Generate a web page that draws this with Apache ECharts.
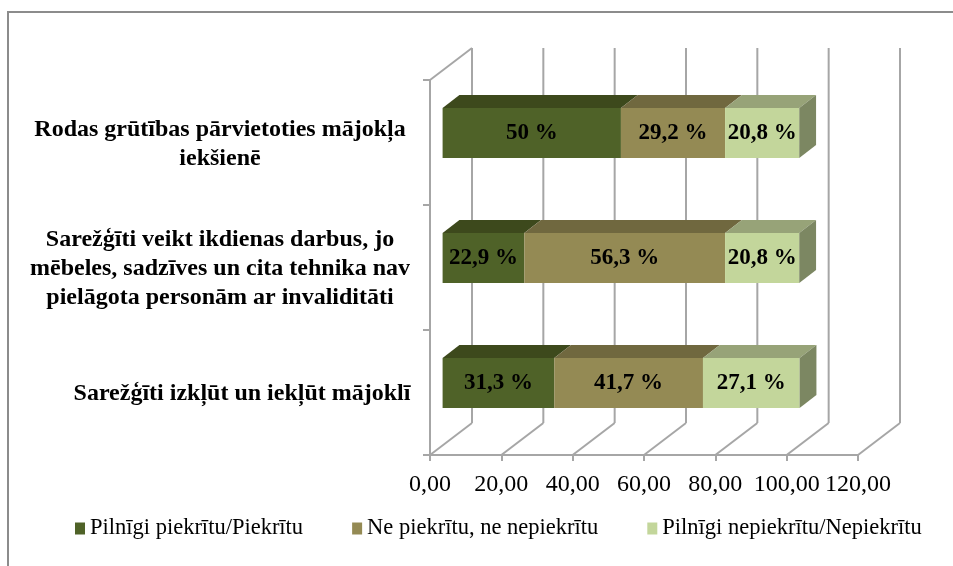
<!DOCTYPE html>
<html>
<head>
<meta charset="utf-8">
<style>
  html, body { margin: 0; padding: 0; background: #fff; }
  #main { width: 953px; height: 566px; }
</style>
<script src="https://cdn.jsdelivr.net/npm/echarts@6/dist/echarts.min.js"></script>
</head>
<body>
<div id="main"></div>
<script>
// bottom to top, as the category axis counts
const categories = [
  'Sarežģīti izkļūt un iekļūt mājoklī',
  'Sarežģīti veikt ikdienas darbus, jo\nmēbeles, sadzīves un cita tehnika nav\npielāgota personām ar invaliditāti',
  'Rodas grūtības pārvietoties mājokļa\niekšienē'
];
const agree = [31.3, 22.9, 50];
const neutral = [41.7, 56.3, 29.2];
const disagree = [27.1, 20.8, 20.8];
const xTicks = [0, 20, 40, 60, 80, 100, 120];

const names = ['Pilnīgi piekrītu/Piekrītu', 'Ne piekrītu, ne nepiekrītu', 'Pilnīgi nepiekrītu/Nepiekrītu'];
const fronts = ['#4f6228', '#948a54', '#c3d69b'];
const tops = ['#3d491c', '#70683f', '#97a378'];
const sideColor = '#7c8762';
const wallColor = '#a6a6a6';
const serif = '"Liberation Serif", "Times New Roman", serif';

// fake 3D: how far the back wall sits from the front plane
const depthX = 42;
const depthY = -32;
const barStart = 0.3;
const barDepth = 0.4;

function renderWall(params, api) {
  const cs = params.coordSys;
  const x = api.coord([api.value(0), 0])[0];
  const bottom = cs.y + cs.height;
  const line = { stroke: wallColor, lineWidth: 2 };
  const children = [
    { type: 'line', shape: { x1: x, y1: bottom, x2: x + depthX, y2: bottom + depthY }, style: line },
    { type: 'line', shape: { x1: x + depthX, y1: bottom + depthY, x2: x + depthX, y2: cs.y + depthY }, style: line }
  ];
  if (params.dataIndex === 0) {
    children.push({ type: 'line', shape: { x1: x, y1: cs.y, x2: x + depthX, y2: cs.y + depthY }, style: line });
  }
  return { type: 'group', children: children };
}

function renderSegment(s, params, api) {
  const a = api.coord([api.value(0), api.value(1)]);
  const b = api.coord([api.value(0) + api.value(2), api.value(1)]);
  const h = api.size([0, 1])[1] * 0.4;
  const x0 = a[0] + depthX * barStart;
  const x1 = b[0] + depthX * barStart;
  const y0 = a[1] + depthY * barStart - h / 2;
  const y1 = y0 + h;
  const dx = depthX * barDepth;
  const dy = depthY * barDepth;
  const children = [
    { type: 'polygon', shape: { points: [[x0, y0], [x0 + dx, y0 + dy], [x1 + dx, y0 + dy], [x1, y0]] }, style: { fill: tops[s] } },
    { type: 'rect', shape: { x: x0, y: y0, width: x1 - x0, height: h }, style: { fill: fronts[s] } }
  ];
  if (s === 2) {
    children.push({ type: 'polygon', shape: { points: [[x1, y0], [x1 + dx, y0 + dy], [x1 + dx, y1 + dy], [x1, y1]] }, style: { fill: sideColor } });
  }
  children.push({
    type: 'text',
    z2: 10,
    style: {
      text: String(api.value(2)).replace('.', ',') + ' %',
      x: (x0 + x1) / 2,
      y: (y0 + y1) / 2,
      align: 'center',
      verticalAlign: 'middle',
      fill: '#000',
      font: 'bold 23px ' + serif
    }
  });
  return { type: 'group', children: children };
}

const stacks = [agree, neutral, disagree];
const barSeries = stacks.map(function (values, s) {
  return {
    name: names[s],
    type: 'custom',
    z: 3,
    clip: false,
    itemStyle: { color: fronts[s] },
    renderItem: function (params, api) { return renderSegment(s, params, api); },
    encode: { x: 0, y: 1 },
    data: values.map(function (v, i) {
      let start = 0;
      for (let k = 0; k < s; k++) start += stacks[k][i];
      return [start, i, v];
    })
  };
});

const chart = echarts.init(document.getElementById('main'), null, { renderer: 'canvas' });
chart.setOption({
  animation: false,
  backgroundColor: '#fff',
  graphic: [{
    // only the top and left edges of the frame fall inside the picture
    type: 'rect',
    silent: true,
    shape: { x: 8, y: 12, width: 960, height: 580 },
    style: { fill: 'none', stroke: '#8c8c8c', lineWidth: 2 }
  }],
  grid: { left: 430, right: 95, top: 80, bottom: 111 },
  legend: {
    data: names,
    left: 70,
    top: 512,
    icon: 'rect',
    itemWidth: 10,
    itemHeight: 12,
    itemGap: 49,
    textStyle: { fontFamily: serif, fontSize: 22.5, color: '#000' }
  },
  xAxis: {
    type: 'value',
    min: 0,
    max: 120,
    interval: 20,
    splitLine: { show: false },
    axisLine: { show: true, lineStyle: { color: wallColor, width: 2 } },
    axisTick: { show: true, length: 6, lineStyle: { color: wallColor, width: 2 } },
    axisLabel: {
      margin: 18,
      color: '#000',
      fontFamily: serif,
      fontSize: 24,
      formatter: function (v) { return v.toFixed(2).replace('.', ','); }
    }
  },
  yAxis: {
    type: 'category',
    data: categories,
    axisLine: { show: true, lineStyle: { color: wallColor, width: 2 } },
    axisTick: { show: true, length: 7, lineStyle: { color: wallColor, width: 2 } },
    axisLabel: {
      margin: 210,
      align: 'center',
      interval: 0,
      color: '#000',
      fontFamily: serif,
      fontWeight: 'bold',
      fontSize: 24,
      lineHeight: 29,
      padding: [3, 0, 0, 0],
      // the one-liner sits further right in the original
      formatter: function (v, i) { return i === 0 ? '{nudge|' + v + '}' : v; },
      rich: {
        nudge: { padding: [0, 0, 0, 44], fontFamily: serif, fontWeight: 'bold', fontSize: 24, color: '#000' }
      }
    }
  },
  series: [{
    type: 'custom',
    name: 'walls',
    z: 1,
    silent: true,
    clip: false,
    renderItem: renderWall,
    encode: { x: 0 },
    data: xTicks.map(function (v) { return [v]; })
  }].concat(barSeries)
});
</script>
</body>
</html>
